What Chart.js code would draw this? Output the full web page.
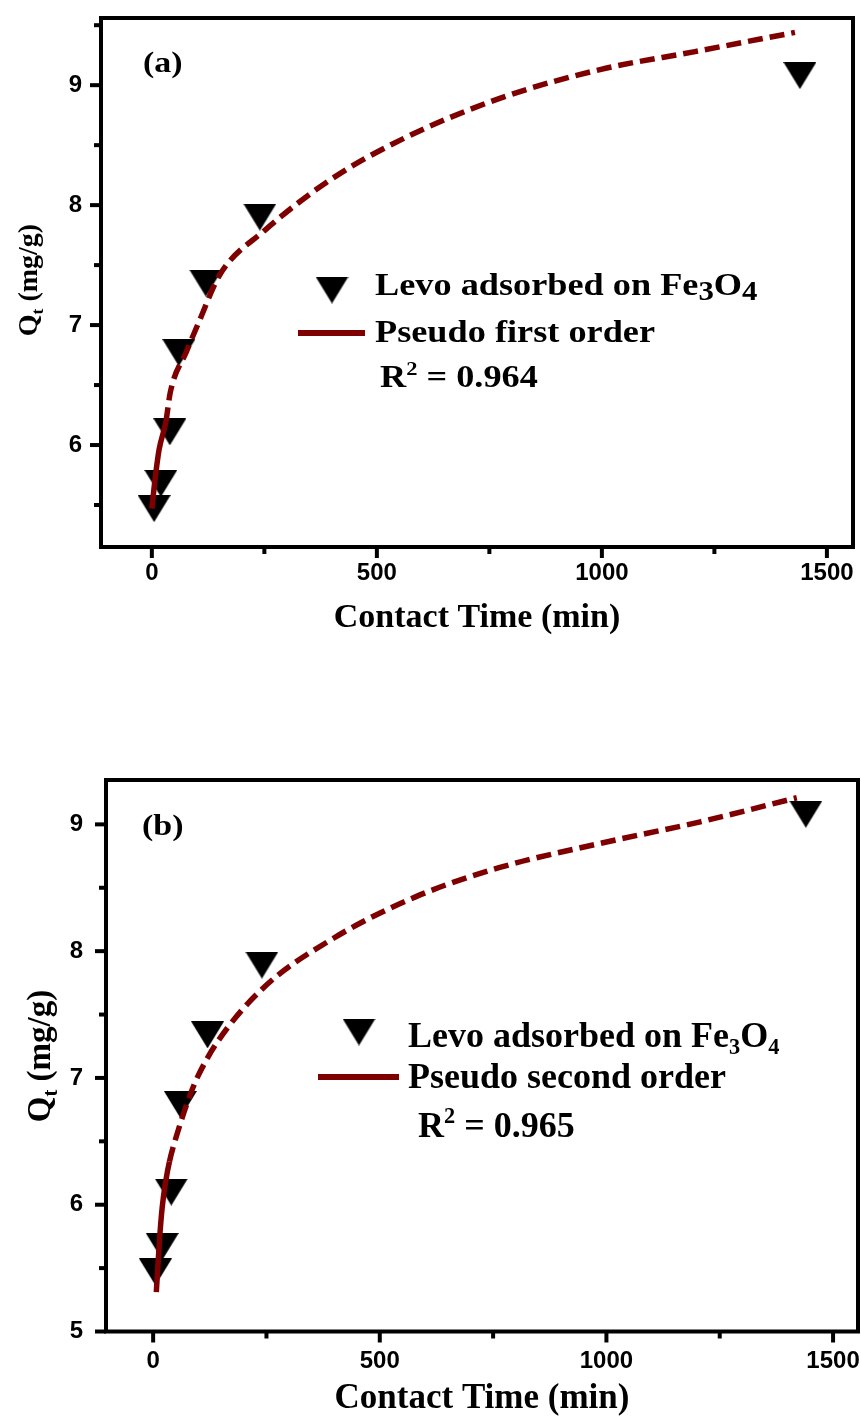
<!DOCTYPE html>
<html lang="en">
<head>
  <meta charset="utf-8">
  <title>Levo adsorption kinetics</title>
  <style>
    body { margin: 0; background: #fff; }
    canvas { display: block; }
  </style>
</head>
<body>
  <canvas id="chartA" width="861" height="690"></canvas>
  <canvas id="chartB" width="861" height="733"></canvas>

  <script src="https://cdn.jsdelivr.net/npm/chart.js@4.4.1/dist/chart.umd.min.js"></script>
  <script>
    // measured points (contact time in min, Qt in mg/g)
    var timeA = [5, 20, 40, 60, 120, 240, 1440];
    var qA = [5.47, 5.68, 6.11, 6.77, 7.35, 7.90, 9.08];
    var timeB = [5, 20, 40, 60, 120, 240, 1440];
    var qB = [5.47, 5.67, 6.10, 6.79, 7.34, 7.89, 9.08];

    // fitted curves
    var fitTimeA = [0, 7, 16, 31, 41, 77, 105, 151, 251, 396, 551, 773, 996, 1207, 1429];
    var fitQA = [5.47, 5.71, 5.96, 6.19, 6.44, 6.78, 7.03, 7.42, 7.79, 8.21, 8.54, 8.89, 9.13, 9.28, 9.44];
    var fitTimeB = [7, 14, 20, 28, 36, 53, 82, 97, 141, 243, 397, 580, 765, 986, 1207, 1420];
    var fitQB = [5.31, 5.72, 5.98, 6.19, 6.34, 6.56, 6.87, 7.00, 7.28, 7.71, 8.10, 8.43, 8.66, 8.85, 9.02, 9.21];

    var xMajor = 500, xMinor = 250;
    var yMajor = 1, yMinor = 0.5;

    var RED = '#7f0000';
    var SERIF = '"Liberation Serif", "Times New Roman", serif';
    var SANS = '"Liberation Sans", Arial, sans-serif';

    function toXY(xs, ys) {
      return xs.map(function (x, i) { return { x: x, y: ys[i] }; });
    }

    // downward triangle, centred in its own box
    function makeTriangle(w, h) {
      var c = document.createElement('canvas');
      c.width = w; c.height = h;
      var g = c.getContext('2d');
      g.fillStyle = '#000';
      g.beginPath();
      g.moveTo(0, 0); g.lineTo(w, 0); g.lineTo(w / 2, h);
      g.closePath();
      g.fill();
      return c;
    }
    var tri = makeTriangle(33, 27);

    // text made of pieces: plain strings or [text, scale, shift] (shift > 0 = down)
    function drawRich(ctx, x, y, size, sx, parts, align) {
      ctx.save();
      ctx.fillStyle = '#000';
      ctx.textBaseline = 'alphabetic';
      ctx.textAlign = 'left';
      var w = 0;
      parts.forEach(function (p) {
        var t = typeof p === 'string' ? p : p[0];
        var s = typeof p === 'string' ? size : size * p[1];
        ctx.font = 'bold ' + s + 'px ' + SERIF;
        w += ctx.measureText(t).width;
      });
      ctx.translate(x, y);
      ctx.scale(sx, 1);
      var cx = align === 'center' ? -w / 2 : 0;
      parts.forEach(function (p) {
        var t = typeof p === 'string' ? p : p[0];
        var s = typeof p === 'string' ? size : size * p[1];
        var dy = typeof p === 'string' ? 0 : size * p[2];
        ctx.font = 'bold ' + s + 'px ' + SERIF;
        ctx.fillText(t, cx, dy);
        cx += ctx.measureText(t).width;
      });
      ctx.restore();
    }

    function decor(d) {
      return {
        id: 'decor',
        afterDraw: function (chart) {
          var ctx = chart.ctx, a = chart.chartArea;
          var xs = chart.scales.x, ys = chart.scales.y;
          ctx.save();
          ctx.strokeStyle = '#000';
          ctx.lineWidth = 4;
          ctx.strokeRect(a.left, a.top, a.right - a.left, a.bottom - a.top);

          // tick marks, outside the frame
          ctx.lineWidth = 4;
          xs.ticks.forEach(function (t) {
            var px = xs.getPixelForValue(t.value);
            var len = t.value % xMajor === 0 ? 9 : 5;
            ctx.beginPath();
            ctx.moveTo(px, a.bottom);
            ctx.lineTo(px, a.bottom + 2 + len);
            ctx.stroke();
          });
          ys.ticks.forEach(function (t) {
            var py = ys.getPixelForValue(t.value);
            var len = Number.isInteger(t.value) ? 9 : 5;
            ctx.beginPath();
            ctx.moveTo(a.left, py);
            ctx.lineTo(a.left - 2 - len, py);
            ctx.stroke();
          });
          ctx.restore();

          // axis titles
          drawRich(ctx, (a.left + a.right) / 2, d.xTitleY, d.xTitleSize, 1, ['Contact Time (min)'], 'center');
          ctx.save();
          ctx.translate(d.yTitleX, d.yTitleY);
          ctx.rotate(-Math.PI / 2);
          drawRich(ctx, 0, d.yTitleSize * 0.33, d.yTitleSize, 1, ['Q', ['t', 0.62, 0.22], ' (mg/g)'], 'center');
          ctx.restore();

          // panel label
          drawRich(ctx, d.tag[0], d.tag[1], 29, 1.17, [d.tagText]);

          // legend
          var L = d.legend;
          ctx.drawImage(tri, L.mx - tri.width / 2, L.my - tri.height / 2);
          drawRich(ctx, L.tx, L.ty1, L.size, L.sx,
            ['Levo adsorbed on Fe', ['3', L.sub, L.shift], 'O', ['4', L.sub, L.shift]]);
          ctx.save();
          ctx.strokeStyle = RED;
          ctx.lineWidth = 6;
          ctx.beginPath();
          ctx.moveTo(L.lx1, L.ly);
          ctx.lineTo(L.lx2, L.ly);
          ctx.stroke();
          ctx.restore();
          drawRich(ctx, L.tx, L.ty2, L.size, L.sx, [L.model]);
          drawRich(ctx, L.rx, L.ty3, L.size, L.sx, ['R', ['2', 0.62, -0.38], ' = ' + L.r2]);
        }
      };
    }

    function makeChart(id, d) {
      var ctx = document.getElementById(id).getContext('2d');
      return new Chart(ctx, {
        type: 'scatter',
        data: {
          datasets: [{
            label: d.legend.model,
            data: toXY(d.fitT, d.fitQ),
            showLine: true,
            borderColor: RED,
            borderWidth: 5.5,
            borderCapStyle: 'butt',
            pointRadius: 0,
            cubicInterpolationMode: 'monotone',
            segment: {
              borderDash: function (c) { return c.p0DataIndex < d.solid ? [] : [15, 7]; }
            },
            order: 0
          }, {
            label: 'Levo adsorbed on Fe3O4',
            data: toXY(d.t, d.q),
            pointStyle: tri,
            pointRadius: 16,
            order: 1
          }]
        },
        options: {
          responsive: false,
          animation: false,
          events: [],
          layout: {
            autoPadding: false,
            padding: { left: 0, right: d.padRight, top: d.padTop, bottom: 0 }
          },
          plugins: { legend: { display: false }, tooltip: { enabled: false } },
          scales: {
            x: {
              type: 'linear',
              min: d.xMin, max: d.xMax,
              grid: { display: false, drawTicks: false },
              border: { display: false },
              ticks: {
                stepSize: xMinor,
                includeBounds: false,
                autoSkip: false,
                maxRotation: 0,
                padding: d.xPad,
                color: '#000',
                font: { family: SANS, weight: 'bold', size: 24 },
                callback: function (v) { return v % xMajor === 0 ? v : ''; }
              },
              afterFit: function (s) {
                s.height = d.xHeight;
                s.paddingLeft = 0; s.paddingRight = 0;
              }
            },
            y: {
              type: 'linear',
              min: d.yMin, max: d.yMax,
              grid: { display: false, drawTicks: false },
              border: { display: false },
              ticks: {
                stepSize: yMinor,
                includeBounds: false,
                autoSkip: false,
                padding: d.yPad,
                color: '#000',
                font: { family: SANS, weight: 'bold', size: 24 },
                callback: function (v) { return Number.isInteger(v) ? v : ''; }
              },
              afterFit: function (s) {
                s.width = d.yWidth;
                s.paddingTop = 0; s.paddingBottom = 0;
              }
            }
          }
        },
        plugins: [decor(d)]
      });
    }

    // (a) pseudo first order
    makeChart('chartA', {
      t: timeA, q: qA, fitT: fitTimeA, fitQ: fitQA, solid: 3,
      xMin: -113, xMax: 1558, yMin: 5.15, yMax: 9.56,
      padTop: 18, padRight: 8, yWidth: 101, xHeight: 143,
      xPad: 12, yPad: 19,
      xTitleY: 627, xTitleSize: 34,
      yTitleX: 28, yTitleY: 280, yTitleSize: 28,
      tag: [143, 72], tagText: '(a)',
      legend: {
        mx: 332, my: 290, tx: 375, ty1: 295, ty2: 342, ty3: 387, rx: 380,
        lx1: 298, lx2: 365, ly: 333, size: 31, sx: 1.17, sub: 0.85, shift: 0.17,
        model: 'Pseudo first order', r2: '0.964'
      }
    });

    // (b) pseudo second order
    makeChart('chartB', {
      t: timeB, q: qB, fitT: fitTimeB, fitQ: fitQB, solid: 4,
      xMin: -104, xMax: 1555, yMin: 5, yMax: 9.35,
      padTop: 90, padRight: 3, yWidth: 106, xHeight: 91.5,
      xPad: 15, yPad: 23,
      xTitleY: 718, xTitleSize: 35,
      yTitleX: 39, yTitleY: 366, yTitleSize: 33,
      tag: [142, 145], tagText: '(b)',
      legend: {
        mx: 359, my: 342, tx: 408, ty1: 357, ty2: 398, ty3: 447, rx: 418,
        lx1: 318, lx2: 399, ly: 387, size: 36, sx: 1.0, sub: 0.62, shift: 0.2,
        model: 'Pseudo second order', r2: '0.965'
      }
    });
  </script>
</body>
</html>
